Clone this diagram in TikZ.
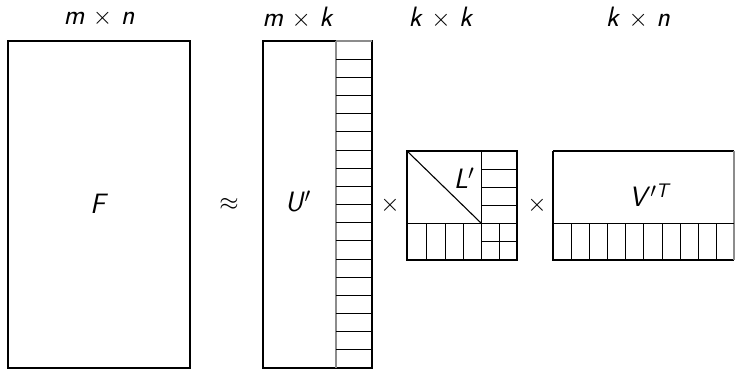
\documentclass[tikz,border=0pt]{standalone}
\usepackage{amsmath}
\usepackage{fontspec}
\newcommand{\sv}[1]{\textsf{\itshape #1}}
\begin{document}
\begin{tikzpicture}[x=1pt,y=-1pt,
  outer/.style={draw=black,line width=1.1pt},
  inner/.style={draw=black,line width=0.85pt},
  soft/.style={draw=black!45,line width=1.1pt},
  lbl/.style={inner sep=0pt,font=\fontsize{28}{32}\selectfont}]
\useasboundingbox (0,0) rectangle (735,369);
% F
\draw[outer] (8,41) rectangle (190,368);
% U'
\draw[outer] (263,41) rectangle (372,368);
\draw[soft] (336,41) -- (336,368);
\draw[soft] (336,41) -- (372,41);
\foreach \i in {1,...,17} \draw[inner] (336,{41+\i*18.17}) -- (372,{41+\i*18.17});
% L'
\draw[outer] (407,151) rectangle (517,260);
\draw[inner] (481,151) -- (481,260);
\draw[inner] (407,223) -- (517,223);
\draw[outer] (407,151) -- (481,223);
\foreach \y in {169,187,205} \draw[inner] (481,\y) -- (517,\y);
\foreach \x in {426,445,463} \draw[inner] (\x,223) -- (\x,260);
\draw[inner] (499,223) -- (499,260);
\draw[inner] (481,241.5) -- (517,241.5);
% V'T
\draw[outer] (553,151) -- (734,151);
\draw[outer] (553,151) -- (553,260) -- (734,260);
\draw[soft] (734,151) -- (734,260);
\draw[inner] (553,223) -- (734,223);
\foreach \i in {1,...,9} \draw[inner] ({553+\i*18.17},223) -- ({553+\i*18.17},260);
% labels
\node[lbl] (dimF) at (99,18) {\sv{m} $\times$ \sv{n}};
\node[lbl] (dimU) at (298,18) {\sv{m} $\times$ \sv{k}};
\node[lbl] (dimL) at (441,18) {\sv{k} $\times$ \sv{k}};
\node[lbl] (dimV) at (638,18) {\sv{k} $\times$ \sv{n}};
\node[lbl] (F) at (99,204) {\sv{F}};
\node[lbl] (approx) at (229,204) {$\approx$};
\node[lbl] (U) at (298,201) {\sv{U}$'$};
\node[lbl] (t1) at (390,205) {$\times$};
\node[lbl] (L) at (464,178) {\sv{L}$'$};
\node[lbl] (t2) at (537,205) {$\times$};
\node[lbl] (V) at (649,195) {\sv{V}$'^{\textsf{\itshape T}}$};
\end{tikzpicture}
\end{document}
